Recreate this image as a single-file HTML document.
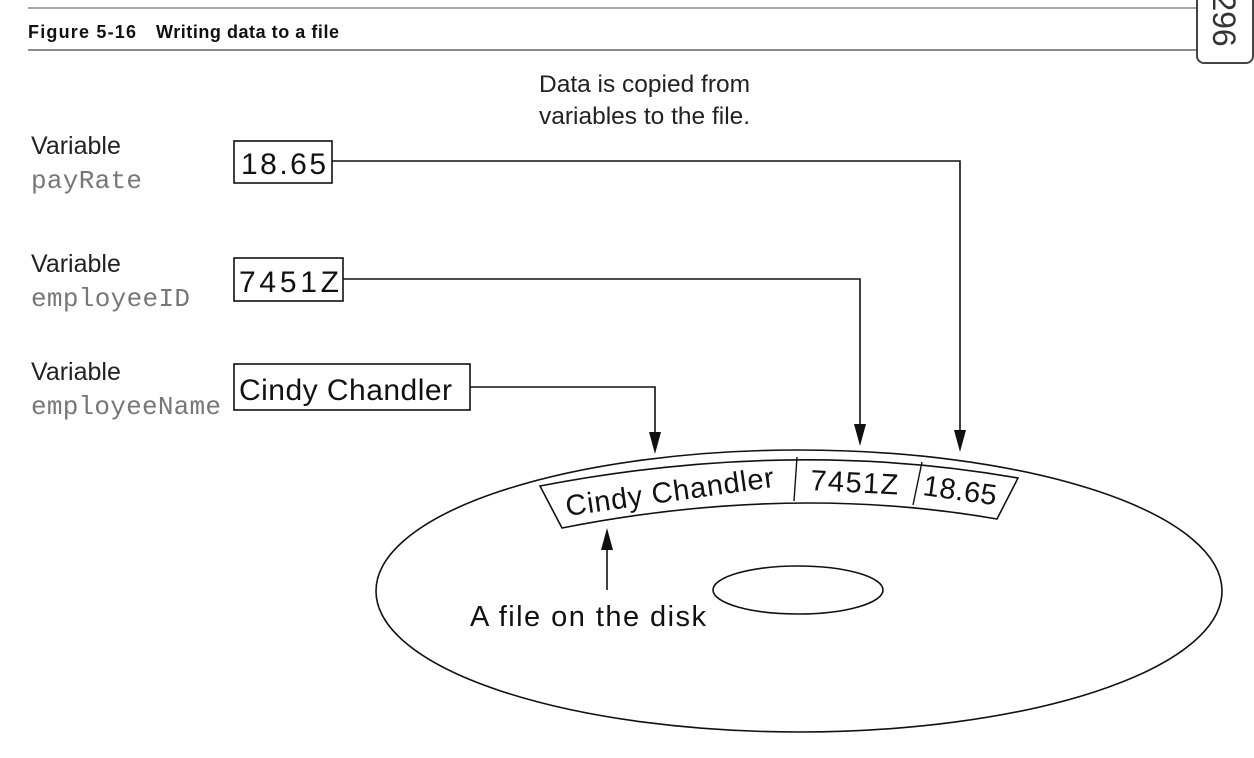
<!DOCTYPE html>
<html><head><style>
body{margin:0;background:#fff;width:1254px;height:758px;overflow:hidden;position:relative;font-family:"Liberation Sans",sans-serif;}
</style></head><body>
<svg width="1254" height="758" viewBox="0 0 1254 758" xmlns="http://www.w3.org/2000/svg" style="position:absolute;left:0;top:0">
<line x1="28" y1="8" x2="1200" y2="8" stroke="#888" stroke-width="1.5"/>
<line x1="28" y1="50" x2="1200" y2="50" stroke="#666" stroke-width="1.5"/>
<text x="28" y="38" font-family="Liberation Sans Narrow, Liberation Sans, sans-serif" font-weight="bold" font-size="18" fill="#111" textLength="108">Figure 5-16</text>
<text x="156" y="38" font-family="Liberation Sans Narrow, Liberation Sans, sans-serif" font-weight="bold" font-size="18" fill="#111" textLength="183">Writing data to a file</text>
<rect x="1197" y="-12" width="56" height="75" rx="7" fill="#fff" stroke="#444" stroke-width="2"/>
<text transform="translate(1213,20) rotate(90)" text-anchor="middle" font-size="32" fill="#333">296</text>
<text x="539" y="92" font-size="24.5" fill="#222">Data is copied from</text>
<text x="539" y="124" font-size="24.5" fill="#222">variables to the file.</text>
<g font-size="25" fill="#222">
<text x="31" y="154">Variable</text>
<text x="31" y="272">Variable</text>
<text x="31" y="380">Variable</text>
</g>
<g font-family="Liberation Mono, monospace" font-size="26" fill="#777">
<text x="31" y="188" textLength="111">payRate</text>
<text x="31" y="306" textLength="159">employeeID</text>
<text x="31" y="414" textLength="190">employeeName</text>
</g>
<g fill="#fff" stroke="#111" stroke-width="1.6">
<rect x="234" y="141" width="98" height="42"/>
<rect x="234" y="258" width="109" height="43"/>
<rect x="234" y="364" width="236" height="46"/>
</g>
<g font-size="30" fill="#111">
<text x="241" y="174" textLength="85">18.65</text>
<text x="239" y="292" textLength="100">7451Z</text>
<text x="239" y="400" textLength="213">Cindy Chandler</text>
</g>
<ellipse cx="799" cy="591" rx="423" ry="141" fill="none" stroke="#111" stroke-width="1.6"/>
<ellipse cx="798" cy="590" rx="85" ry="24" fill="none" stroke="#111" stroke-width="1.6"/>
<g fill="none" stroke="#111" stroke-width="1.6">
<polyline points="332,161 960,161 960,436"/>
<polyline points="343,279 860,279 860,430"/>
<polyline points="470,387 655,387 655,438"/>
<line x1="607" y1="590" x2="607" y2="545"/>
</g>
<g fill="#111">
<path d="M954,430 L966,430 L960,452z"/>
<path d="M854,424 L866,424 L860,446z"/>
<path d="M649,432 L661,432 L655,454z"/>
<path d="M601,550 L613,550 L607,528z"/>
</g>
<path d="M540,486 Q790,438 1018,478 L997,519 Q790,483 562,528 Z" fill="#fff" stroke="#111" stroke-width="1.6"/>
<line x1="797" y1="457" x2="794" y2="501" stroke="#111" stroke-width="1.4"/>
<line x1="922" y1="462" x2="913" y2="505" stroke="#111" stroke-width="1.4"/>
<text x="567" y="516" font-size="29" fill="#111" transform="rotate(-8 567 516)" textLength="210">Cindy Chandler</text>
<text x="810" y="490" font-size="29" fill="#111" transform="rotate(3 810 490)" textLength="88">7451Z</text>
<text x="922" y="495" font-size="29" fill="#111" transform="rotate(8 922 495)" textLength="74">18.65</text>
<text x="470" y="626" font-size="29" fill="#111" textLength="236">A file on the disk</text>
</svg>
</body></html>
